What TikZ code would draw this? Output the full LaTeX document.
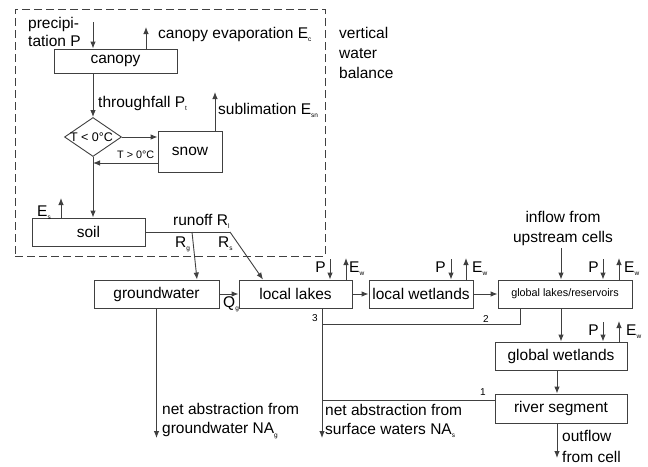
\documentclass[tikz,border=0pt]{standalone}
\usepackage{fontspec}
\setmainfont{Liberation Sans}
\usetikzlibrary{shapes.geometric,arrows.meta}
\newcommand{\lowidx}[1]{\raisebox{-3.5pt}{\fontsize{6.5pt}{7pt}\selectfont #1}}

\begin{document}
\begin{tikzpicture}
[every node/.style={inner sep=0pt}, >={Latex[length=7pt,width=5.5pt]},
 line/.style={line width=0.9pt, draw=black!75},
 box/.style={rectangle, line width=0.9pt, draw=black!75, fill=white},
 txt/.style={font=\fontsize{15.5pt}{20pt}\selectfont},
 small/.style={font=\fontsize{10.8pt}{13pt}\selectfont},
 tiny/.style={font=\fontsize{10pt}{12pt}\selectfont}]
\useasboundingbox (0pt, 0pt) rectangle (648pt, -466pt);
\node (frame) [rectangle, line width=0.9pt, draw=black!75, dash pattern=on 8pt off 4pt, minimum width=310pt, minimum height=247pt] at (170pt, -132.5pt) {};
\node (canopy) [box, txt, minimum width=123pt, minimum height=24pt] at (115.5pt, -61pt) {canopy};
\node (frost) [diamond, line width=0.9pt, draw=black!75, fill=white, minimum width=57pt, minimum height=39pt] at (93pt, -137pt) {};
\node (frosttxt) [font=\fontsize{12.5pt}{14pt}\selectfont, anchor=base] at (91.5pt, -141.5pt) {T < 0°C};
\node (snow) [box, txt, minimum width=64pt, minimum height=41pt] at (190pt, -151.5pt) {snow};
\node (soil) [box, txt, minimum width=113pt, minimum height=28pt] at (88.5pt, -232pt) {soil};
\node (gw) [box, txt, minimum width=125pt, minimum height=28pt] at (156.5pt, -294pt) {groundwater};
\node (llak) [box, txt, minimum width=113pt, minimum height=28pt] at (295.5pt, -294pt) {local lakes};
\node (lwet) [box, txt, minimum width=104pt, minimum height=28pt] at (421pt, -294pt) {local wetlands};
\node (glak) [box, small, minimum width=134pt, minimum height=28pt] at (565pt, -294pt) {global lakes/reservoirs};
\node (gwet) [box, txt, minimum width=132pt, minimum height=28pt] at (561pt, -356pt) {global wetlands};
\node (river) [box, txt, minimum width=132pt, minimum height=29pt] at (561pt, -408.5pt) {river segment};
% free ends
\coordinate (precin) at (93pt, -22pt);
\coordinate (evapc) at (146pt, -27pt);
\coordinate (evapsn) at (215pt, -92pt);
\coordinate (snowret) at (93pt, -163pt);
\coordinate (evaps) at (61pt, -198pt);
\coordinate (rjoin) at (230pt, -232pt);
\coordinate (rgsplit) at (192pt, -232pt);
\coordinate (pll) at (330pt, -259pt);
\coordinate (ell) at (346pt, -258pt);
\coordinate (plw) at (451pt, -259pt);
\coordinate (elw) at (466pt, -258pt);
\coordinate (pgl) at (603pt, -259pt);
\coordinate (egl) at (619pt, -258pt);
\coordinate (pgw) at (603pt, -322pt);
\coordinate (egw) at (619pt, -321pt);
\coordinate (inflow) at (561pt, -248pt);
\coordinate (ret2) at (520pt, -324.5pt);
\coordinate (ret1) at (322pt, -400pt);
\coordinate (nas) at (322pt, -438pt);
\coordinate (nag) at (156.5pt, -438pt);
\coordinate (outfl) at (557pt, -458pt);
% vertical water balance
\draw [line, ->] (precin) -- (precin |- canopy.north);
\draw [line, ->] (evapc |- canopy.north) -- (evapc);
\draw [line, ->] (frost.north |- canopy.south) -- (frost.north);
\draw [line, ->] (frost.east) -- (frost.east -| snow.west);
\draw [line, ->] (evapsn |- snow.north) -- (evapsn);
\draw [line, ->] (snowret -| snow.west) -- (snowret);
\draw [line, ->] (frost.south) -- (frost.south |- soil.north);
\draw [line, ->] (evaps |- soil.north) -- (evaps);
\draw [line] (soil.east) -- (rjoin);
\draw [line, ->] (rjoin) -- ([xshift=-32.5pt]llak.north);
\draw [line, ->] (rgsplit) -- ([xshift=40.5pt]gw.north);
% lateral water balance
\draw [line, ->] (gw.east) -- (llak.west);
\draw [line, ->] (llak.east) -- (lwet.west);
\draw [line, ->] (lwet.east) -- (glak.west);
\draw [line, ->] (pll) -- (pll |- llak.north);
\draw [line, ->] (ell |- llak.north) -- (ell);
\draw [line, ->] (plw) -- (plw |- lwet.north);
\draw [line, ->] (elw |- lwet.north) -- (elw);
\draw [line, ->] (pgl) -- (pgl |- glak.north);
\draw [line, ->] (egl |- glak.north) -- (egl);
\draw [line, ->] (pgw) -- (pgw |- gwet.north);
\draw [line, ->] (egw |- gwet.north) -- (egw);
\draw [line, ->] (inflow) -- (inflow |- glak.north);
\draw [line, ->] (gwet.north |- glak.south) -- (gwet.north);
\draw [line, ->] (outfl |- gwet.south) -- (outfl |- river.north);
\draw [line, ->] (outfl |- river.south) -- (outfl);
\draw [line] (ret2 |- glak.south) -- (ret2) -- (ret2 -| nas);
\draw [line] (ret1 -| river.west) -- (ret1);
\draw [line, ->] (nas |- llak.south) -- (nas);
\draw [line, ->] (gw.south) -- (nag);
% labels
\node (lprec) [txt, align=left, anchor=west, font=\fontsize{15.5pt}{17.5pt}\selectfont] at (28pt, -32pt) {precipi-\\tation P};
\node (levapc) [txt, anchor=base west] at (158pt, -38pt) {canopy evaporation E\lowidx{c}};
\node (lvwb) [txt, align=left, anchor=west] at (339pt, -53pt) {vertical\\water\\balance};
\node (lthrough) [txt, anchor=base west] at (98pt, -107pt) {throughfall P\lowidx{t}};
\node (lsubl) [txt, anchor=base west] at (218pt, -114pt) {sublimation E\lowidx{sn}};
\node (lwarm) [small, anchor=base west] at (117pt, -158pt) {T > 0°C};
\node (levaps) [txt, anchor=base west] at (37pt, -216pt) {E\lowidx{s}};
\node (lrunoff) [txt, anchor=base west] at (173pt, -225pt) {runoff R\lowidx{l}};
\node (lrg) [txt, anchor=base west] at (175pt, -247pt) {R\lowidx{g}};
\node (lrs) [txt, anchor=base west] at (218pt, -247pt) {R\lowidx{s}};
\node (lqg) [txt, anchor=base west] at (223pt, -307pt) {Q\lowidx{g}};
\node (lpll) [txt, anchor=base east] at (326pt, -272pt) {P};
\node (lell) [txt, anchor=base west] at (349pt, -272pt) {E\lowidx{w}};
\node (lplw) [txt, anchor=base east] at (446pt, -272pt) {P};
\node (lelw) [txt, anchor=base west] at (472pt, -272pt) {E\lowidx{w}};
\node (lpgl) [txt, anchor=base east] at (599pt, -272pt) {P};
\node (legl) [txt, anchor=base west] at (624pt, -272pt) {E\lowidx{w}};
\node (lpgw) [txt, anchor=base east] at (599pt, -335pt) {P};
\node (legw) [txt, anchor=base west] at (626pt, -335pt) {E\lowidx{w}};
\node (linflow) [txt, align=center] at (563pt, -228pt) {inflow from\\upstream cells};
\node (l3) [tiny, anchor=base west] at (312pt, -321pt) {3};
\node (l2) [tiny, anchor=base west] at (483pt, -322pt) {2};
\node (l1) [tiny, anchor=base west] at (480pt, -395pt) {1};
\node (lnag) [txt, align=left, anchor=west, font=\fontsize{15.5pt}{19pt}\selectfont] at (162pt, -421pt) {net abstraction from\\groundwater NA\lowidx{g}};
\node (lnas) [txt, align=left, anchor=west, font=\fontsize{15.5pt}{19pt}\selectfont] at (325pt, -421pt) {net abstraction from\\surface waters NA\lowidx{s}};
\node (lout) [txt, align=left, anchor=west, font=\fontsize{15.5pt}{21pt}\selectfont] at (562pt, -446pt) {outflow\\from cell};
\end{tikzpicture}
\end{document}
